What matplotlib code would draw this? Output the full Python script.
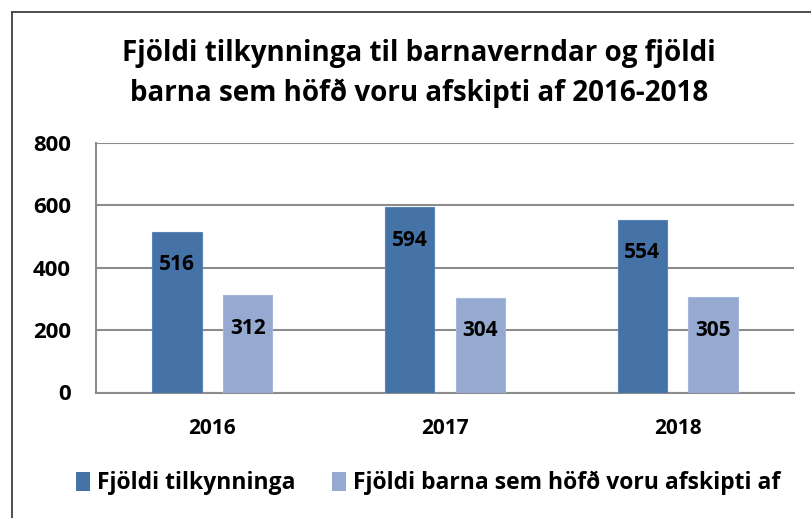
import matplotlib
matplotlib.use("Agg")
import matplotlib.pyplot as plt
from matplotlib.patches import Patch
from matplotlib.lines import Line2D
import numpy as np

years = ["2016", "2017", "2018"]
tilkynningar = [516, 594, 554]
born = [312, 304, 305]
series_names = ["Fjöldi tilkynninga", "Fjöldi barna sem höfð voru afskipti af"]
yticks = [0, 200, 400, 600, 800]
title_lines = ["Fjöldi tilkynninga til barnaverndar og fjöldi",
               "barna sem höfð voru afskipti af 2016-2018"]

dark = "#4572A7"
light = "#95A9D1"
grid = "#8C8C8C"
FONT = "Open Sans"

W, H = 811, 518
fig = plt.figure(figsize=(W / 100, H / 100), dpi=100)
fig.patch.set_facecolor("white")

# border
fig.add_artist(Line2D([12 / W, 12 / W], [0, 1 - 12 / H], transform=fig.transFigure, color="#404040", lw=1.3))
fig.add_artist(Line2D([12 / W, 1], [1 - 12 / H, 1 - 12 / H], transform=fig.transFigure, color="#404040", lw=1.3))

ax = fig.add_axes([96 / W, 1 - 392.5 / H, (794 - 96) / W, (392.5 - 143) / H])
x = np.arange(len(years))
bw = 0.213
off = 0.152
b1 = ax.bar(x - off, tilkynningar, bw, color=dark, edgecolor="#5A84B5", lw=0.8, zorder=3)
b2 = ax.bar(x + off, born, bw, color=light, edgecolor="#A5B7DA", lw=0.8, zorder=3)

for bars, vals in ((b1, tilkynningar), (b2, born)):
    for r, v in zip(bars, vals):
        ax.annotate(str(v), (r.get_x() + r.get_width() / 2, v), xytext=(0, -33),
                    textcoords="offset pixels", ha="center", va="center",
                    fontsize=15, fontweight="bold", family=FONT, color="black", zorder=4)

ax.set_xlim(-0.5, 2.5)
ax.set_ylim(0, 800)
ax.set_yticks(yticks)
ax.set_yticklabels([str(t) for t in yticks])
ax.set_xticks(x)
ax.set_xticklabels(years)
ax.yaxis.grid(True, color=grid, lw=1.5, zorder=0)
for s in ("top", "right"):
    ax.spines[s].set_visible(False)
for s in ("left", "bottom"):
    ax.spines[s].set_color(grid)
    ax.spines[s].set_linewidth(1.5)
ax.tick_params(axis="both", length=0)
ax.tick_params(axis="y", pad=18)
ax.tick_params(axis="x", pad=18)
for lab in ax.get_yticklabels():
    lab.set_fontfamily(FONT)
    lab.set_fontweight("bold")
    lab.set_fontsize(16)
for lab in ax.get_xticklabels():
    lab.set_fontfamily(FONT)
    lab.set_fontweight("bold")
    lab.set_fontsize(15)

fig.text(419 / W, 1 - 53 / H, title_lines[0], ha="center", va="center",
         fontsize=20, fontweight="bold", family=FONT)
fig.text(419 / W, 1 - 93 / H, title_lines[1], ha="center", va="center",
         fontsize=20, fontweight="bold", family=FONT)

handles = [Patch(facecolor=dark), Patch(facecolor=light)]
fig.legend(handles, series_names, loc="center", bbox_to_anchor=(428 / W, 1 - 483 / H),
           ncol=2, frameon=False, handlelength=0.6, handleheight=0.9, handletextpad=0.3,
           columnspacing=1.6, prop={"family": FONT, "weight": "bold", "size": 16.5})

fig.savefig("out.png", dpi=100)
